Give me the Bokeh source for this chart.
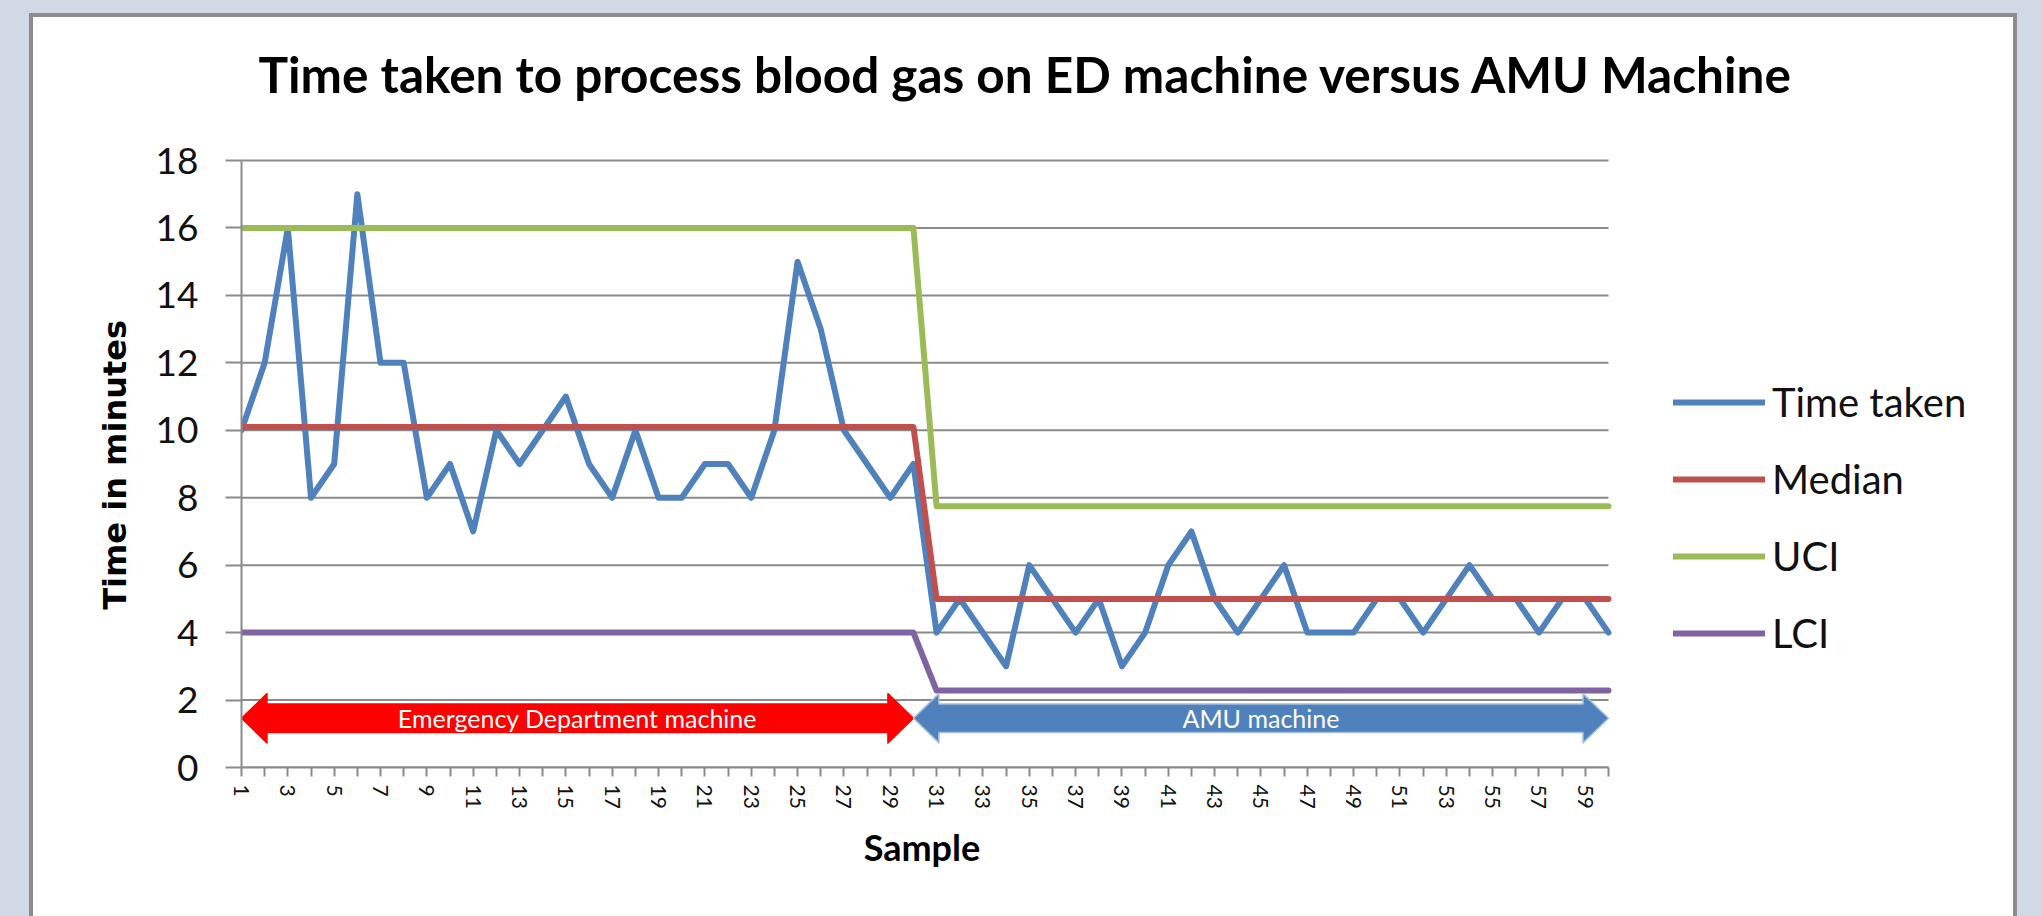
import numpy as np
from bokeh.plotting import figure
from bokeh.models import (ColumnDataSource, FixedTicker, Legend, LegendItem,
                          Range1d, Spacer)
from bokeh.layouts import column, row
from bokeh.embed import file_html
from bokeh.resources import INLINE
from bokeh.core.properties import value

# ---------------- data ----------------
samples = list(range(1, 61))
time_taken = [10, 12, 16, 8, 9, 17, 12, 12, 8, 9,
              7, 10, 9, 10, 11, 9, 8, 10, 8, 8,
              9, 9, 8, 10, 15, 13, 10, 9, 8, 9,
              4, 5, 4, 3, 6, 5, 4, 5, 3, 4,
              6, 7, 5, 4, 5, 6, 4, 4, 4, 5,
              5, 4, 5, 6, 5, 5, 4, 5, 5, 4]
phase_names = ["Emergency Department machine", "AMU machine"]
phase_first = [1, 31]
phase_last = [30, 60]
median_phase = [10.1, 5.0]
uci_phase = [16.0, 7.75]
lci_phase = [4.0, 2.28]
y_ticks = [0, 2, 4, 6, 8, 10, 12, 14, 16, 18]
x_tick_labels = [str(s) if s % 2 == 1 else "" for s in samples]
title_text = "Time taken to process blood gas on ED machine versus AMU Machine"

def expand(vals):
    out = []
    for v, a, b in zip(vals, phase_first, phase_last):
        out += [v] * (b - a + 1)
    return out

median = expand(median_phase)
uci = expand(uci_phase)
lci = expand(lci_phase)

src = ColumnDataSource(dict(x=samples, t=time_taken, m=median, u=uci, l=lci))

# ---------------- layout geometry ----------------
W, H = 1980, 899
BL, BB = 208, 149                 # left / bottom borders around the frame
plot_px_w, plot_px_h = 1367, 607  # pixels used by samples 1..60 and by 0..18 minutes
frame_w, frame_h = W - BL, H - BB # frame also holds the title (top) and the legend (right)
x_lo, x_hi = samples[0], samples[-1]
y_lo, y_hi = y_ticks[0], y_ticks[-1]
x_end = x_lo + (x_hi - x_lo) * frame_w / plot_px_w
y_end = y_lo + (y_hi - y_lo) * frame_h / plot_px_h

p = figure(width=W, height=H, output_backend="svg", toolbar_location=None,
           x_range=Range1d(x_lo, x_end), y_range=Range1d(y_lo, y_end),
           min_border_left=BL, min_border_right=0,
           min_border_top=0, min_border_bottom=BB,
           background_fill_color="white", border_fill_color="white")
p.outline_line_color = None
p.title.text = ""
p.title.visible = False

grid_col = "#8a8a8a"
p.xgrid.visible = False
p.ygrid.visible = False
n = len(y_ticks)
p.segment(x0=[x_lo] * n, y0=y_ticks, x1=[x_hi] * n, y1=y_ticks,
          line_color=grid_col, line_width=2, level="underlay")

# chart title, anchored above the top-left corner of the plotting area
p.text(x=[x_lo], y=[y_hi], text=[title_text], text_font=value("Lato"),
       text_font_style="bold", text_font_size="49.5px", text_color="#000000",
       text_align="left", text_baseline="alphabetic", x_offset=17, y_offset=-87)

yax = p.yaxis[0]
yax.ticker = FixedTicker(ticks=y_ticks)
yax.bounds = (y_lo, y_hi)
yax.axis_line_color = grid_col
yax.axis_line_width = 2
yax.major_tick_line_color = grid_col
yax.major_tick_line_width = 2
yax.major_tick_out = 16
yax.major_tick_in = 0
yax.minor_tick_line_color = None
yax.major_label_text_font = "Lato"
yax.major_label_text_font_size = "37px"
yax.major_label_text_color = "#111111"
yax.major_label_standoff = 27
# axis titles are centred on the whole frame; trailing no-break spaces
# move them back to the centre of the data area
yax.axis_label = "Time in minutes" + "\u00a0" * 13
yax.axis_label_text_font = "DejaVu Sans"
yax.axis_label_text_font_style = "bold"
yax.axis_label_text_font_size = "32px"
yax.axis_label_text_color = "#000000"
yax.axis_label_standoff = 19

xax = p.xaxis[0]
xax.ticker = FixedTicker(ticks=samples)
xax.bounds = (x_lo, x_hi)
xax.major_label_overrides = {s: lab for s, lab in zip(samples, x_tick_labels)}
xax.axis_line_color = grid_col
xax.axis_line_width = 2
xax.major_tick_line_color = grid_col
xax.major_tick_line_width = 2
xax.major_tick_out = 9
xax.major_tick_in = 0
xax.minor_tick_line_color = None
xax.major_label_orientation = -np.pi / 2
xax.major_label_text_font = "Lato"
xax.major_label_text_font_size = "21px"
xax.major_label_text_color = "#111111"
xax.major_label_standoff = 8
xax.axis_label = "Sample" + "\u00a0" * 47
xax.axis_label_text_font = "Lato"
xax.axis_label_text_font_style = "bold"
xax.axis_label_text_font_size = "36px"
xax.axis_label_text_color = "#000000"
xax.axis_label_standoff = 13

lw = 6
r_t = p.line("x", "t", source=src, line_color="#4F81BD", line_width=lw, line_join="round", line_cap="round")
r_m = p.line("x", "m", source=src, line_color="#C0504D", line_width=lw, line_join="round", line_cap="round")
r_u = p.line("x", "u", source=src, line_color="#9BBB59", line_width=lw, line_join="round", line_cap="round")
r_l = p.line("x", "l", source=src, line_color="#8064A2", line_width=lw, line_join="round", line_cap="round")

# ---------------- phase arrows ----------------
arrow_y = 1.46
body_half = 0.42
head_half = 0.73
head_len = 1.1
arrow_fill = ["#FF0000", "#4F81BD"]
arrow_edge = ["#FF0000", "#A7BFDE"]
xs, ys = [], []
for a, b in zip(phase_first, phase_last):
    x0 = a if a == 1 else a - 1
    x1 = b
    xs.append([x0, x0 + head_len, x0 + head_len, x1 - head_len, x1 - head_len, x1,
               x1 - head_len, x1 - head_len, x0 + head_len, x0 + head_len])
    ys.append([arrow_y, arrow_y + head_half, arrow_y + body_half, arrow_y + body_half,
               arrow_y + head_half, arrow_y, arrow_y - head_half, arrow_y - body_half,
               arrow_y - body_half, arrow_y - head_half])
p.patches(xs, ys, fill_color=arrow_fill, line_color=arrow_edge, line_width=1.5,
          line_join="round")
centers = [((a if a == 1 else a - 1) + b) / 2 for a, b in zip(phase_first, phase_last)]
p.text(x=centers, y=[arrow_y] * 2, text=phase_names, text_color="white",
       text_font=value("Lato"), text_font_size="25px", text_align="center",
       text_baseline="middle")

# ---------------- legend ----------------
legend = Legend(items=[LegendItem(label="Time taken", renderers=[r_t]),
                       LegendItem(label="Median", renderers=[r_m]),
                       LegendItem(label="UCI", renderers=[r_u]),
                       LegendItem(label="LCI", renderers=[r_l])],
                location=(1432, 110), glyph_width=92, glyph_height=40,
                label_height=40, spacing=29, label_standoff=7, padding=0,
                margin=0, border_line_color=None, background_fill_alpha=0,
                label_text_font="Lato", label_text_font_size="40px",
                label_text_color="#111111")
p.add_layout(legend, "center")

# ---------------- page frame (blue-grey surround, grey border) ----------------
bord = {"background-color": "#8d8d8d"}
box = row(Spacer(width=4, height=H + 4, styles=bord),
          column(Spacer(width=W, height=4, styles=bord), p),
          Spacer(width=4, height=H + 4, styles=bord),
          styles={"background-color": "white"})
lay = column(Spacer(width=2042, height=13),
             row(Spacer(width=29, height=H + 4), box, Spacer(width=25, height=H + 4)),
             styles={"background-color": "#D1D8E6"})

open("out.html", "w").write(file_html(lay, INLINE))
